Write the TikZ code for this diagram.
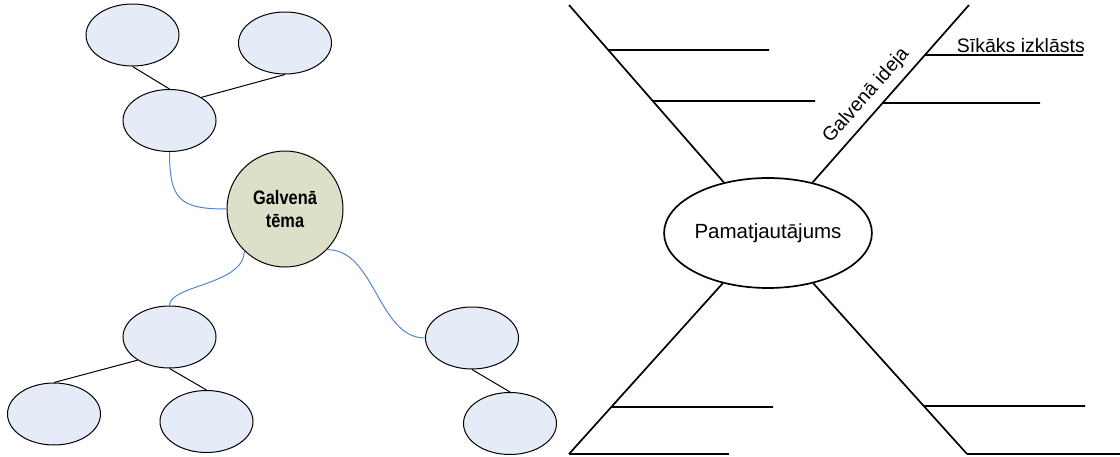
\documentclass[tikz,border=0pt]{standalone}
\usepackage{graphicx}
\usepackage{fontspec}
\setmainfont{Liberation Sans}
\usetikzlibrary{shapes.geometric}
\definecolor{bubblefill}{RGB}{230,236,247}
\definecolor{topicfill}{RGB}{221,223,200}
\definecolor{linkblue}{RGB}{84,134,204}
\begin{document}
\begin{tikzpicture}[x=1pt,y=-1pt,
  bubble/.style={ellipse, draw=black, line width=1pt, fill=bubblefill,
                 minimum width=93pt, minimum height=62pt, inner sep=0pt},
  twig/.style={draw=black, line width=1pt},
  curvelink/.style={draw=linkblue, line width=1pt},
  bone/.style={draw=black, line width=1.7pt},
  txt/.style={font=\fontsize{19.5}{23}\selectfont, inner sep=0pt}]
\useasboundingbox (0,0) rectangle (1120,456);

% ---------- mind map ----------
\node[bubble] (a) at (132.5,35) {};
\node[bubble] (b) at (285,43) {};
\node[bubble] (c) at (169.5,120.5) {};
\node[circle, draw=black, line width=1pt, fill=topicfill, minimum size=116pt,
      inner sep=0pt, align=center, font=\fontsize{19.5}{23}\selectfont\bfseries]
      (g) at (285,209) {\scalebox{0.84}[1]{Galvenā}\\\scalebox{0.84}[1]{tēma}};
\node[bubble] (d) at (169.5,337) {};
\node[bubble] (e) at (54,414) {};
\node[bubble] (f) at (206.5,421.5) {};
\node[bubble] (h) at (472,338) {};
\node[bubble] (i) at (510,423.5) {};

\draw[twig] (a.south) -- (c.north);
\draw[twig] (b.south) -- (c.36);
\draw[twig] (d.216) -- (e.north);
\draw[twig] (d.south) -- (f.north);
\draw[twig] (h.south) -- (i.north);

\draw[curvelink] (c.south) .. controls (169.5,200) and (180,209) .. (g.west);
\draw[curvelink] (d.north) .. controls (169.5,285) and (244,285) .. (g.226);
\draw[curvelink] (g.-44) .. controls (375,249) and (378,338) .. (h.west);

% ---------- fishbone ----------
\node[ellipse, draw=black, line width=1.7pt, minimum width=202pt,
      minimum height=110pt, inner sep=0pt, txt, font=\fontsize{20.5}{24}\selectfont]
      (p) at (768,233) {Pamatjautājums};

\coordinate (tl) at (569,5);
\coordinate (tr) at (969,5);
\coordinate (bl) at (569,454);
\coordinate (br) at (967,454);

\draw[bone] (p) -- (tl);
\draw[bone] (p) -- (bl);
\draw[bone] (p) -- (br);
\draw[bone] (p) -- (tr)
  node[pos=0.425, sloped, above=7pt, txt] (gi) {Galvenā ideja};

\coordinate (tl1) at (intersection of p--tl and 0,50--1120,50);
\coordinate (tl2) at (intersection of p--tl and 0,101--1120,101);
\coordinate (tr1) at (intersection of p--tr and 0,55--1120,55);
\coordinate (tr2) at (intersection of p--tr and 0,103--1120,103);
\coordinate (bl1) at (intersection of p--bl and 0,407--1120,407);
\coordinate (br1) at (intersection of p--br and 0,406--1120,406);

\draw[bone] (tl1) -- (769,50);
\draw[bone] (tl2) -- (815,101);
\draw[bone] (tr1) -- (1083,55);
\draw[bone] (tr2) -- (1040,103);
\draw[bone] (bl1) -- (773,407);
\draw[bone] (bl) -- (729,454);
\draw[bone] (br1) -- (1085,406);
\draw[bone] (br) -- (1120,454);

\node[txt, anchor=base east] (s) at (1085,52) {Sīkāks izklāsts};
\end{tikzpicture}
\end{document}
